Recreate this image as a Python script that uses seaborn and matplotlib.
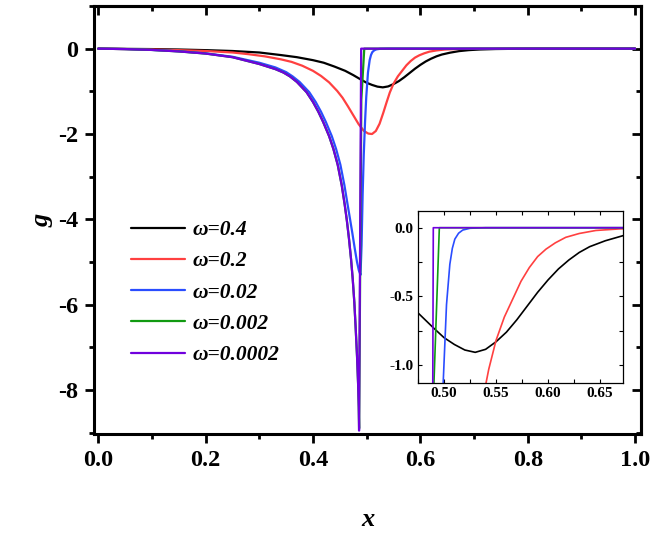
import numpy as np
import pandas as pd
import matplotlib
matplotlib.use("Agg")
import matplotlib.pyplot as plt
import seaborn as sns
from matplotlib.ticker import MultipleLocator, FormatStrFormatter

# values
x_w04 = [0.0, 0.10, 0.15, 0.20, 0.25, 0.30, 0.34, 0.37, 0.40, 0.42, 0.44, 0.46, 0.475, 0.49, 0.50,
         0.51, 0.52, 0.53, 0.54, 0.55, 0.56, 0.57, 0.58, 0.59, 0.60, 0.61, 0.62, 0.63, 0.64,
         0.655, 0.672, 0.69, 0.71, 0.74, 0.78, 0.82, 1.0]
g_w04 = [0.0, -0.01, -0.02, -0.035, -0.055, -0.09, -0.15, -0.20, -0.27, -0.33, -0.42, -0.52, -0.62, -0.73, -0.80,
         -0.85, -0.89, -0.907, -0.885, -0.83, -0.76, -0.67, -0.57, -0.47, -0.38, -0.30, -0.235, -0.18, -0.138,
         -0.095, -0.058, -0.035, -0.02, -0.009, -0.003, 0.0, 0.0]

x_w02 = [0.0, 0.10, 0.15, 0.20, 0.25, 0.28, 0.31, 0.34, 0.36, 0.38, 0.40, 0.415, 0.43, 0.445, 0.455,
         0.465, 0.475, 0.485, 0.495, 0.503, 0.51, 0.517, 0.524, 0.531, 0.537, 0.543, 0.55, 0.558,
         0.566, 0.574, 0.582, 0.59, 0.598, 0.607, 0.617, 0.63, 0.646, 0.67, 0.70, 0.75, 1.0]
g_w02 = [0.0, -0.02, -0.035, -0.055, -0.09, -0.13, -0.18, -0.25, -0.31, -0.40, -0.52, -0.64, -0.79, -0.99, -1.15,
         -1.35, -1.56, -1.77, -1.93, -1.99, -2.0, -1.93, -1.76, -1.50, -1.26, -1.03, -0.82, -0.65,
         -0.52, -0.39, -0.29, -0.21, -0.156, -0.11, -0.07, -0.042, -0.02, -0.008, -0.003, 0.0, 0.0]

x_w002 = [0.0, 0.05, 0.10, 0.15, 0.20, 0.25, 0.30, 0.33, 0.35, 0.362, 0.375, 0.393, 0.405, 0.415,
          0.424, 0.435, 0.443, 0.451, 0.4585, 0.464, 0.468, 0.473, 0.478, 0.482, 0.4855, 0.4885,
          0.4905, 0.4925, 0.4945, 0.497, 0.4992, 0.5024, 0.5056, 0.508, 0.5104, 0.514, 0.518,
          0.525, 0.54, 1.0]
g_w002 = [0.0, -0.01, -0.03, -0.06, -0.11, -0.19, -0.33, -0.44, -0.55, -0.65, -0.78, -1.02, -1.25, -1.48,
          -1.72, -2.05, -2.35, -2.72, -3.2, -3.62, -3.92, -4.3, -4.7, -5.0, -5.2, -5.3,
          -4.6, -3.4, -2.5, -1.7, -1.13, -0.56, -0.266, -0.15, -0.083, -0.04, -0.017,
          -0.004, 0.0, 0.0]

x_w0002 = [0.0, 0.05, 0.10, 0.15, 0.20, 0.25, 0.30, 0.33, 0.345, 0.357, 0.37, 0.388, 0.40, 0.41,
           0.419, 0.43, 0.438, 0.446, 0.4535, 0.459, 0.463, 0.467, 0.471, 0.474, 0.477, 0.4795,
           0.482, 0.484, 0.4852, 0.4859, 0.4900, 0.4955, 1.0]
g_w0002 = [0.0, -0.01, -0.03, -0.065, -0.115, -0.2, -0.36, -0.48, -0.56, -0.65, -0.78, -1.02, -1.25, -1.48,
           -1.72, -2.05, -2.35, -2.72, -3.2, -3.65, -4.02, -4.45, -4.95, -5.4, -5.95, -6.55,
           -7.2, -7.85, -8.4, -8.9, -1.2, 0.0, 0.0]

x_w00002 = [0.0, 0.05, 0.10, 0.15, 0.20, 0.25, 0.30, 0.33, 0.345, 0.357, 0.37, 0.388, 0.40, 0.41,
            0.419, 0.43, 0.438, 0.446, 0.4535, 0.459, 0.463, 0.467, 0.471, 0.474, 0.477, 0.4795,
            0.482, 0.484, 0.4852, 0.4858, 0.4897, 1.0]
g_w00002 = [0.0, -0.01, -0.03, -0.065, -0.115, -0.2, -0.36, -0.48, -0.56, -0.65, -0.78, -1.02, -1.25, -1.48,
            -1.72, -2.05, -2.35, -2.72, -3.2, -3.65, -4.02, -4.45, -4.95, -5.4, -5.95, -6.55,
            -7.2, -7.85, -8.4, -8.95, 0.0, 0.0]

labels = ["ω=0.4", "ω=0.2", "ω=0.02", "ω=0.002", "ω=0.0002"]
colors = ["#000000", "#ff4040", "#2a4dff", "#119a11", "#7000dd"]
series = [(x_w04, g_w04), (x_w02, g_w02), (x_w002, g_w002), (x_w0002, g_w0002), (x_w00002, g_w00002)]

sns.set_theme(style="ticks")
plt.rcParams["font.family"] = ["Liberation Serif", "DejaVu Serif"]
plt.rcParams["font.weight"] = "bold"
plt.rcParams["axes.unicode_minus"] = False
for key in ["text.color", "axes.labelcolor", "xtick.color", "ytick.color", "axes.edgecolor"]:
    plt.rcParams[key] = "black"

fig = plt.figure(figsize=(6.59, 5.43), dpi=100)
ax = fig.add_axes([0.1426, 0.2007, 0.8301, 0.7883])

for (xs, gs), lab, col in zip(series, labels, colors):
    df = pd.DataFrame({"x": xs, "g": gs})
    sns.lineplot(data=df, x="x", y="g", ax=ax, color=col, lw=1.6, label=lab,
                 estimator=None, sort=False)

ax.set_xlim(-0.008, 1.011)
ax.set_ylim(-9.03, 1.0)
ax.xaxis.set_major_locator(MultipleLocator(0.2))
ax.xaxis.set_minor_locator(MultipleLocator(0.1))
ax.yaxis.set_major_locator(MultipleLocator(2))
ax.yaxis.set_minor_locator(MultipleLocator(1))
ax.xaxis.set_major_formatter(FormatStrFormatter("%.1f"))
ax.yaxis.set_major_formatter(FormatStrFormatter("%d"))
ax.tick_params(which="major", direction="out", length=6.5, width=2, labelsize=17.5, pad=5)
ax.tick_params(which="minor", direction="out", length=3.5, width=2)
for lab in ax.get_xticklabels() + ax.get_yticklabels():
    lab.set_fontweight("bold")
for sp in ax.spines.values():
    sp.set_linewidth(2.2)
    sp.set_color("black")

# mirrored ticks pointing inward on top and right
top = ax.secondary_xaxis("top")
top.xaxis.set_major_locator(MultipleLocator(0.2))
top.xaxis.set_minor_locator(MultipleLocator(0.1))
top.tick_params(which="major", direction="in", length=6.5, width=2, labeltop=False)
top.tick_params(which="minor", direction="in", length=3.5, width=2)
top.spines["top"].set_linewidth(2.2)
right = ax.secondary_yaxis("right")
right.yaxis.set_major_locator(MultipleLocator(2))
right.yaxis.set_minor_locator(MultipleLocator(1))
right.tick_params(which="major", direction="in", length=6.5, width=2, labelright=False)
right.tick_params(which="minor", direction="in", length=3.5, width=2)
right.spines["right"].set_linewidth(2.2)

ax.set_xlabel("x", fontsize=19, fontstyle="italic", fontweight="bold", labelpad=27)
ax.set_ylabel("g", fontsize=19, fontstyle="italic", fontweight="bold", labelpad=3)

ax.legend(loc="upper left", bbox_to_anchor=(0.068, 0.50), frameon=False,
          prop={"family": "Liberation Serif", "style": "italic", "weight": "bold", "size": 15.5},
          handlelength=2.5, handletextpad=0.35, labelspacing=0.52, borderpad=0, borderaxespad=0)

# inset zoom around the minimum
ins = fig.add_axes([0.6343, 0.2947, 0.311, 0.3168])
for (xs, gs), col in zip(series, colors):
    df = pd.DataFrame({"x": xs, "g": gs})
    sns.lineplot(data=df, x="x", y="g", ax=ins, color=col, lw=1.2,
                 estimator=None, sort=False, legend=False)
ins.set_xlim(0.475, 0.672)
ins.set_ylim(-1.13, 0.122)
ins.xaxis.set_major_locator(MultipleLocator(0.05))
ins.xaxis.set_minor_locator(MultipleLocator(0.025))
ins.yaxis.set_major_locator(MultipleLocator(0.5))
ins.yaxis.set_minor_locator(MultipleLocator(0.25))
ins.xaxis.set_major_formatter(FormatStrFormatter("%.2f"))
ins.yaxis.set_major_formatter(FormatStrFormatter("%.1f"))
ins.tick_params(which="both", direction="in", length=3, width=0.8, top=True, right=True,
                labelsize=11, pad=3)
for lab in ins.get_xticklabels() + ins.get_yticklabels():
    lab.set_fontweight("bold")
for sp in ins.spines.values():
    sp.set_linewidth(0.9)
    sp.set_color("black")
ins.set_xlabel("")
ins.set_ylabel("")

fig.savefig("out.png", dpi=100)
